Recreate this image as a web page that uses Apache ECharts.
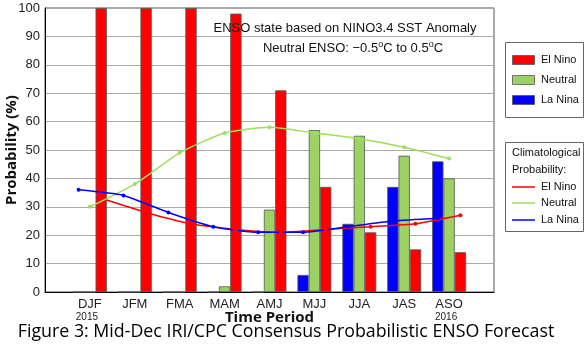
<!DOCTYPE html>
<html><head><meta charset="utf-8">
<script src="https://cdn.jsdelivr.net/npm/echarts@6/dist/echarts.min.js"></script>
<style>html,body{margin:0;padding:0;background:#fff}#c{width:587px;height:348px}</style>
</head><body><div id="c"></div><script>
const categories = ['DJF','JFM','FMA','MAM','AMJ','MJJ','JJA','JAS','ASO'];
const yearLabels = {DJF:'2015', ASO:'2016'};
const elNino  = [100,100,100,98,71,37,21,15,14];
const neutral = [0,0,0,2,29,57,55,48,40];
const laNina  = [0,0,0,0,0,6,24,37,46];
const climElNino  = [33,28,24,22,21,22,23,24,27];
const climNeutral = [30,38,49,56,58,56,54,51,47];
const climLaNina  = [36,34,28,23,21,21,23,25,26];
const yMin = 0, yMax = 100, yStep = 10;

const RED = '#ff0000', GREEN = '#9cd264', BLUE = '#0000ff', GLINE = '#9fde5e';
const SANS = 'Liberation Sans, Arial, sans-serif';
const OFF = 0.252; // bar offset in category units
const axisCats = [''].concat(categories, ['']);
const pad = arr => [null].concat(arr, [null]);
const pts = (arr, d) => arr.map((v, i) => [i + 1 + d, v]);

const chart = echarts.init(document.getElementById('c'), null, {renderer:'canvas'});
const barStyle = c => ({color:c, borderColor:'#555', borderWidth:0.8});
const lineSer = (name, data, color, d) => ({
  name, type:'line', xAxisIndex:1, data:pts(data, d), smooth:0.2,
  symbol:'circle', symbolSize:4, z:5,
  lineStyle:{color, width:1.5}, itemStyle:{color}
});
chart.setOption({
  animation:false,
  textStyle:{fontFamily:SANS},
  grid:{left:45, right:93, top:8, bottom:56, show:true, borderColor:'#555', borderWidth:1,
        containLabel:false, outerBoundsMode:'none'},
  xAxis:[{
    type:'category', data:axisCats, boundaryGap:false,
    axisLine:{lineStyle:{color:'#000', width:1}}, axisTick:{show:false},
    axisLabel:{interval:0, margin:6, color:'#222', fontSize:13, fontFamily:SANS,
      formatter:v => yearLabels[v] ? v + '\n{s|' + yearLabels[v] + '}' : v,
      rich:{s:{fontSize:10, fontFamily:SANS, color:'#222', lineHeight:12, padding:[0,6,0,0]}}},
    name:'Time Period', nameLocation:'middle', nameGap:18, nameMoveOverlap:false,
    nameTextStyle:{fontSize:15, fontWeight:'bold', color:'#111', fontFamily:'Open Sans'}
  },{
    type:'value', min:0, max:categories.length + 1, show:false
  }],
  yAxis:{
    type:'value', min:yMin, max:yMax, interval:yStep,
    axisLine:{show:true, lineStyle:{color:'#000', width:1}}, axisTick:{show:false},
    splitLine:{lineStyle:{color:'#aaa', width:1}},
    axisLabel:{margin:5, color:'#222', fontSize:13, fontFamily:SANS},
    name:'Probability (%)', nameLocation:'middle', nameGap:26, nameMoveOverlap:false,
    nameTextStyle:{fontSize:15, fontWeight:'bold', color:'#111', fontFamily:'Open Sans'}
  },
  series:[
    {name:'La Nina', type:'bar', data:pad(laNina), barWidth:11.3, barGap:'0%', itemStyle:barStyle(BLUE)},
    {name:'Neutral', type:'bar', data:pad(neutral), barWidth:11.3, barGap:'0%', itemStyle:barStyle(GREEN)},
    {name:'El Nino', type:'bar', data:pad(elNino), barWidth:11.3, barGap:'0%', itemStyle:barStyle(RED)},
    lineSer('Clim El Nino', climElNino, RED, OFF),
    lineSer('Clim Neutral', climNeutral, GLINE, 0),
    lineSer('Clim La Nina', climLaNina, BLUE, -OFF)
  ],
  graphic:[
    {type:'text', z:20, x:345, y:28, style:{text:'ENSO state based on NINO3.4 SST Anomaly', fill:'#111',
      font:'13px ' + SANS, textAlign:'center', textVerticalAlign:'middle'}},
    {type:'text', z:20, x:353, y:48, style:{text:'Neutral ENSO: \u22120.5{sup|o}C to 0.5{sup|o}C', fill:'#111',
      font:'13px ' + SANS, textAlign:'center', textVerticalAlign:'middle',
      rich:{sup:{fontSize:9, fontFamily:SANS, verticalAlign:'top', lineHeight:16, fill:'#111'}}}},
    // legend 1
    {type:'rect', shape:{x:505.5, y:42.5, width:78, height:75}, style:{fill:'#fff', stroke:'#666', lineWidth:1}},
    {type:'rect', shape:{x:512.5, y:55.5, width:22, height:9}, style:{fill:RED, stroke:'#555', lineWidth:0.8}},
    {type:'rect', shape:{x:512.5, y:75.5, width:22, height:9}, style:{fill:GREEN, stroke:'#555', lineWidth:0.8}},
    {type:'rect', shape:{x:512.5, y:95.5, width:22, height:9}, style:{fill:BLUE, stroke:'#555', lineWidth:0.8}},
    {type:'text', x:541, y:60, style:{text:'El Nino', fill:'#111', font:'11px ' + SANS, textVerticalAlign:'middle'}},
    {type:'text', x:541, y:80, style:{text:'Neutral', fill:'#111', font:'11px ' + SANS, textVerticalAlign:'middle'}},
    {type:'text', x:541, y:100, style:{text:'La Nina', fill:'#111', font:'11px ' + SANS, textVerticalAlign:'middle'}},
    // legend 2
    {type:'rect', shape:{x:505.5, y:142.5, width:78, height:89}, style:{fill:'#fff', stroke:'#666', lineWidth:1}},
    {type:'text', x:512, y:153, style:{text:'Climatological', fill:'#111', font:'11px ' + SANS, textVerticalAlign:'middle'}},
    {type:'text', x:512, y:170, style:{text:'Probability:', fill:'#111', font:'11px ' + SANS, textVerticalAlign:'middle'}},
    {type:'line', shape:{x1:512, y1:187, x2:535, y2:187}, style:{stroke:RED, lineWidth:1.5}},
    {type:'line', shape:{x1:512, y1:203, x2:535, y2:203}, style:{stroke:GLINE, lineWidth:1.5}},
    {type:'line', shape:{x1:512, y1:220, x2:535, y2:220}, style:{stroke:BLUE, lineWidth:1.5}},
    {type:'text', x:541, y:187, style:{text:'El Nino', fill:'#111', font:'11px ' + SANS, textVerticalAlign:'middle'}},
    {type:'text', x:541, y:203, style:{text:'Neutral', fill:'#111', font:'11px ' + SANS, textVerticalAlign:'middle'}},
    {type:'text', x:541, y:220, style:{text:'La Nina', fill:'#111', font:'11px ' + SANS, textVerticalAlign:'middle'}},
    // caption
    {type:'text', x:286, y:332, style:{text:'Figure 3: Mid-Dec IRI/CPC Consensus Probabilistic ENSO Forecast', fill:'#000',
      font:'17.8px "Open Sans"', textAlign:'center', textVerticalAlign:'middle'}}
  ]
});
</script></body></html>
